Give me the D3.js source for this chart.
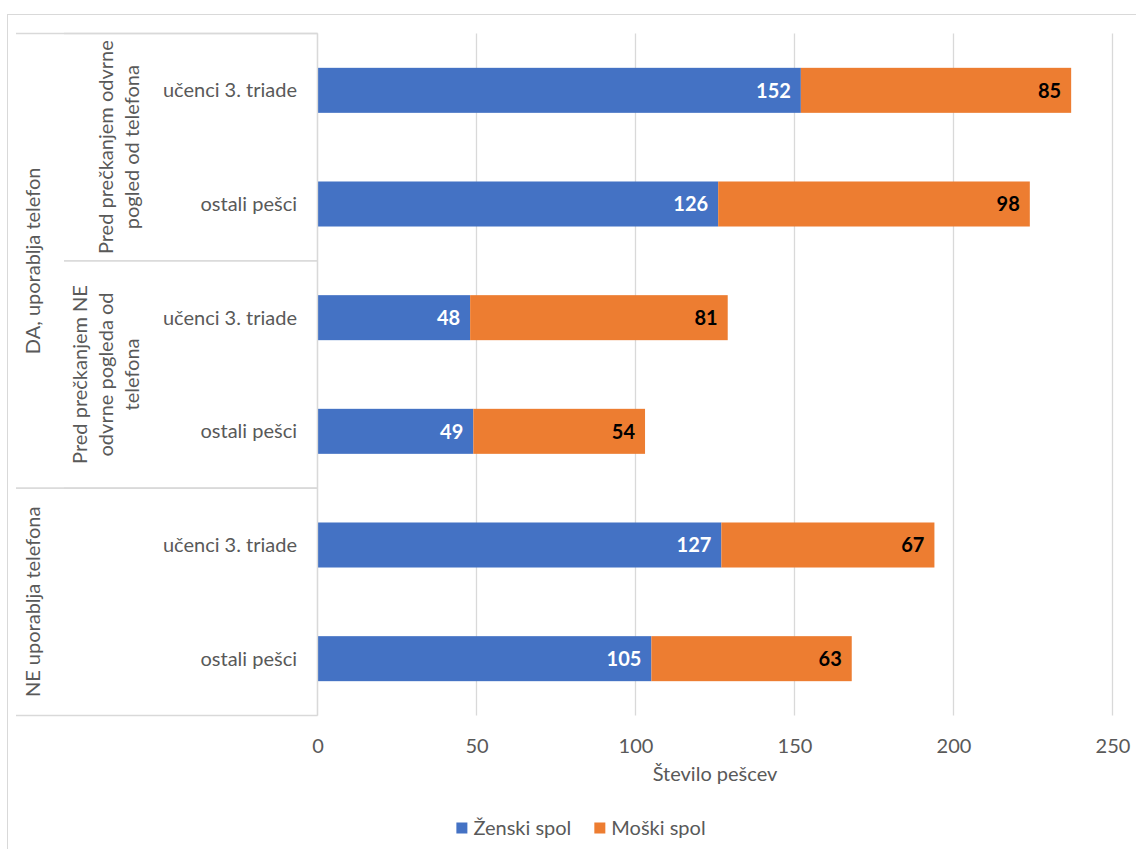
<!DOCTYPE html>
<html>
<head>
<meta charset="utf-8">
<script src="https://cdn.jsdelivr.net/npm/d3@7"></script>
<style>
  body { margin: 0; background: #fff; }
  svg { font-family: Lato, "Open Sans", sans-serif; }
</style>
</head>
<body>
<svg id="chart" width="1136" height="849"></svg>
<script>
// data
const categories = ['učenci 3. triade', 'ostali pešci', 'učenci 3. triade', 'ostali pešci', 'učenci 3. triade', 'ostali pešci'];
const zenski = [152, 126, 48, 49, 127, 105];
const moski = [85, 98, 81, 54, 67, 63];
const xTicks = [0, 50, 100, 150, 200, 250];

// outer category levels: which rows they span
const level1Labels = ['DA, uporablja telefon', 'NE uporablja telefona'];
const level1Rows = [[0, 3], [4, 5]];
const level2Labels = [['Pred prečkanjem odvrne', 'pogled od telefona'], ['Pred prečkanjem NE', 'odvrne pogleda od', 'telefona']];
const level2Rows = [[0, 1], [2, 3]];

const seriesNames = ['Ženski spol', 'Moški spol'];
const seriesColors = ['#4472C4', '#ED7D31'];
const labelColors = ['#ffffff', '#000000'];

const textColor = '#595959';
const lineColor = '#d9d9d9';
const fontSize = 20;

const svg = d3.select('#chart');

// outer chart border
svg.append('rect')
    .attr('x', 7.5).attr('y', 14.5)
    .attr('width', 1150).attr('height', 860)
    .attr('fill', 'none').attr('stroke', lineColor);

const x = d3.scaleLinear().domain([0, 250]).range([317.5, 1112.5]);
const y = d3.scaleBand()
    .domain(d3.range(categories.length))
    .range([33.5, 715.5])
    .paddingInner(0.604)
    .paddingOuter(0.302);

const plotTop = y.range()[0], plotBottom = y.range()[1];

// gridlines
svg.append('g')
    .selectAll('line')
    .data(xTicks)
    .enter().append('line')
    .attr('x1', d => x(d)).attr('x2', d => x(d))
    .attr('y1', plotTop).attr('y2', plotBottom)
    .attr('stroke', lineColor).attr('stroke-width', 1.3);

// x axis tick labels
const xAxis = svg.append('g')
    .attr('transform', `translate(0, ${plotBottom + 30})`)
    .call(d3.axisBottom(x).tickValues(xTicks).tickSize(0).tickPadding(0));
xAxis.select('.domain').remove();
xAxis.selectAll('text')
    .attr('dy', '0.35em')
    .attr('fill', textColor)
    .style('font-size', fontSize + 'px')
    .style('font-family', 'Lato, sans-serif');

// axis title
svg.append('text')
    .attr('x', (x.range()[0] + x.range()[1]) / 2)
    .attr('y', plotBottom + 58)
    .attr('dy', '0.35em')
    .attr('text-anchor', 'middle')
    .attr('fill', textColor)
    .style('font-size', fontSize + 'px')
    .text('Število pešcev');

// stacked bars
const stacked = d3.stack().keys([0, 1])(categories.map((c, i) => [zenski[i], moski[i]]));

const layers = svg.append('g')
    .selectAll('g')
    .data(stacked)
    .enter().append('g')
    .attr('fill', (d, i) => seriesColors[i]);

layers.selectAll('rect')
    .data(d => d)
    .enter().append('rect')
    .attr('x', d => x(d[0]))
    .attr('y', (d, i) => y(i))
    .attr('width', d => x(d[1]) - x(d[0]))
    .attr('height', y.bandwidth());

// data labels, inside end of each segment
layers.each(function (layer, k) {
    d3.select(this).selectAll('text')
        .data(layer)
        .enter().append('text')
        .attr('x', d => x(d[1]) - 10)
        .attr('y', (d, i) => y(i) + y.bandwidth() / 2)
        .attr('dy', '0.36em')
        .attr('text-anchor', 'end')
        .attr('fill', labelColors[k])
        .style('font-size', fontSize + 'px')
        .style('font-weight', 'bold')
        .text(d => d[1] - d[0]);
});

// category axis: line at value 0
svg.append('line')
    .attr('x1', x(0)).attr('x2', x(0))
    .attr('y1', plotTop).attr('y2', plotBottom)
    .attr('stroke', lineColor).attr('stroke-width', 1.3);

// innermost labels
svg.append('g')
    .selectAll('text')
    .data(categories)
    .enter().append('text')
    .attr('x', 297)
    .attr('y', (d, i) => y(i) + y.bandwidth() / 2)
    .attr('dy', '0.35em')
    .attr('text-anchor', 'end')
    .attr('fill', textColor)
    .style('font-size', fontSize + 'px')
    .text(d => d);

// boundaries of a row span in pixels
const step = y.step();
const spanTop = r => plotTop + r[0] * step;
const spanBottom = r => plotTop + (r[1] + 1) * step;

// level 1 separators and labels
level1Rows.forEach(r => {
    [spanTop(r), spanBottom(r)].forEach(yy => {
        svg.append('line')
            .attr('x1', 16).attr('x2', x(0))
            .attr('y1', yy).attr('y2', yy)
            .attr('stroke', lineColor).attr('stroke-width', 1.3);
    });
});
svg.append('g')
    .selectAll('text')
    .data(level1Labels)
    .enter().append('text')
    .attr('transform', (d, i) => `translate(33, ${(spanTop(level1Rows[i]) + spanBottom(level1Rows[i])) / 2}) rotate(-90)`)
    .attr('dy', '0.35em')
    .attr('text-anchor', 'middle')
    .attr('fill', textColor)
    .style('font-size', fontSize + 'px')
    .text(d => d);

// level 2 separators and labels
level2Rows.forEach(r => {
    [spanTop(r), spanBottom(r)].forEach(yy => {
        svg.append('line')
            .attr('x1', 64).attr('x2', x(0))
            .attr('y1', yy).attr('y2', yy)
            .attr('stroke', lineColor).attr('stroke-width', 1.3);
    });
});
const lineGap = 26;
level2Labels.forEach((lines, i) => {
    const cy = (spanTop(level2Rows[i]) + spanBottom(level2Rows[i])) / 2;
    const cx = 119 - (lines.length - 2) * lineGap / 2;
    svg.append('text')
        .attr('transform', `translate(${cx}, ${cy}) rotate(-90)`)
        .attr('text-anchor', 'middle')
        .attr('fill', textColor)
        .style('font-size', fontSize + 'px')
        .selectAll('tspan')
        .data(lines)
        .enter().append('tspan')
        .attr('x', 0)
        .attr('y', (d, j) => (j - (lines.length - 1) / 2) * lineGap)
        .attr('dy', '0.35em')
        .text(d => d);
});

// legend
const legend = svg.append('g').attr('transform', 'translate(0, 828)');
const items = legend.selectAll('g')
    .data(seriesNames)
    .enter().append('g');
items.append('rect')
    .attr('y', -5.5)
    .attr('width', 11).attr('height', 11)
    .attr('fill', (d, i) => seriesColors[i]);
items.append('text')
    .attr('x', 17)
    .attr('dy', '0.35em')
    .attr('fill', textColor)
    .style('font-size', fontSize + 'px')
    .text(d => d);

// lay legend items out side by side, centred
let offset = 0;
const widths = [];
items.each(function () {
    widths.push(17 + this.querySelector('text').getComputedTextLength());
});
const gap = 23;
const total = d3.sum(widths) + gap * (widths.length - 1);
items.attr('transform', (d, i) => {
    const tx = 581 - total / 2 + offset;
    offset += widths[i] + gap;
    return `translate(${tx}, 0)`;
});
</script>
</body>
</html>
